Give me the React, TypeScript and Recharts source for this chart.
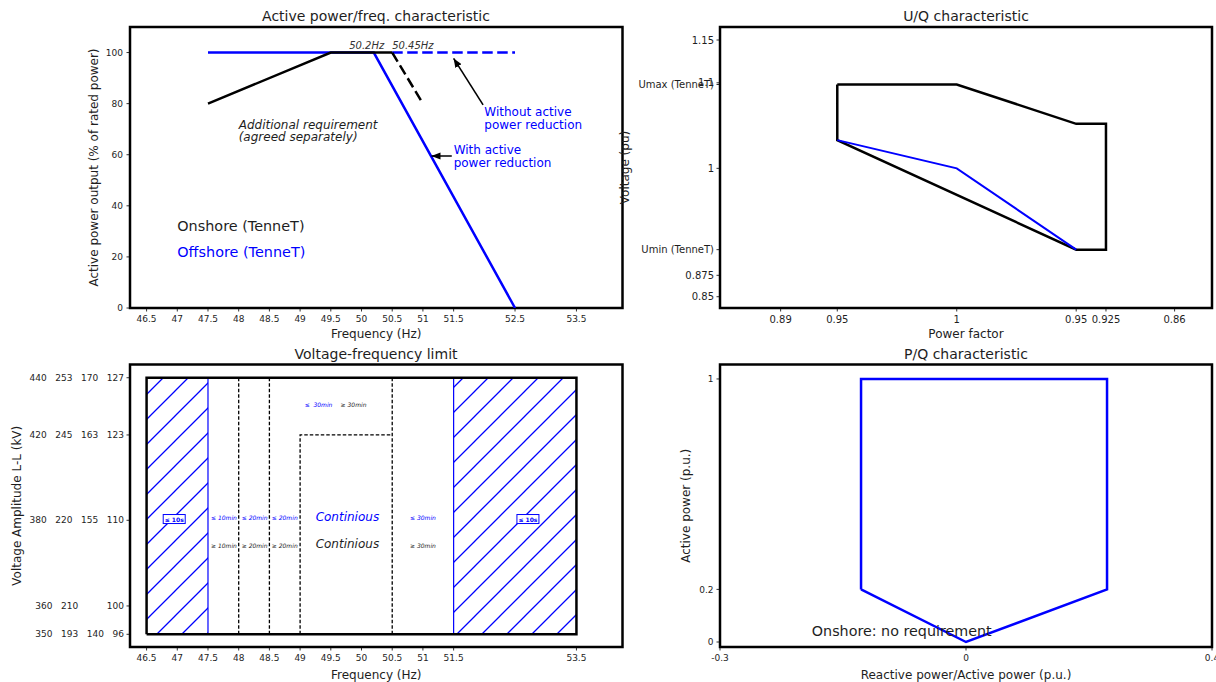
import React from 'react';
import { ComposedChart, Line, XAxis, YAxis, ReferenceArea, ReferenceDot } from 'recharts';

const FONT = '"DejaVu Sans", "Liberation Sans", sans-serif';
const BLUE = '#0000ff';
const INK = '#1e1e1e';
const NB = '\u00A0';

// ---------- Panel 1: Active power / frequency characteristic ----------
const apfXDomain = [46.23, 54.25];
const apfYDomain = [0, 110];
const apfXTicks = [46.5, 47, 47.5, 48, 48.5, 49, 49.5, 50, 50.5, 51, 51.5, 52.5, 53.5];
const apfYTicks = [0, 20, 40, 60, 80, 100];
const apfOffshore = [{ x: 47.5, y: 100 }, { x: 50.2, y: 100 }, { x: 52.5, y: 0 }];
const apfOffshoreNoReduction = [{ x: 50.5, y: 100 }, { x: 52.5, y: 100 }];
const apfOnshore = [{ x: 47.5, y: 80 }, { x: 49.5, y: 100 }, { x: 50.5, y: 100 }];
const apfOnshoreExtra = [{ x: 50.5, y: 100 }, { x: 51, y: 80 }];
const apfArrowWithout = [{ x: 51.98, y: 79.5 }, { x: 51.5, y: 97.7 }];
const apfArrowWith = [{ x: 51.47, y: 59.5 }, { x: 51.14, y: 59.5 }];

// ---------- Panel 2: U/Q characteristic ----------
const uqXDomain = [-0.652, 0.703];
const uqYDomain = [0.8368, 1.1652];
const uqXTicks = [-0.485, -0.329, 0, 0.329, 0.411, 0.6];
const uqXTickLabels = ['0.89', '0.95', '1', '0.95', '0.925', '0.86'];
const uqYTicks = [0.85, 0.875, 0.905, 1, 1.098, 1.1, 1.15];
const uqYTickLabels = ['0.85', '0.875', 'Umin (TenneT)', '1', 'Umax (TenneT)', '1.1', '1.15'];
const uqEnvelope = [
  { x: -0.329, y: 1.098 }, { x: 0, y: 1.098 }, { x: 0.329, y: 1.052 }, { x: 0.411, y: 1.052 },
  { x: 0.411, y: 0.905 }, { x: 0.329, y: 0.905 }, { x: -0.329, y: 1.033 }, { x: -0.329, y: 1.098 },
];
const uqOffshore = [{ x: -0.329, y: 1.033 }, { x: 0, y: 1.0 }, { x: 0.329, y: 0.905 }];

// ---------- Panel 3: Voltage-frequency limit ----------
const vfXDomain = [46.23, 54.25];
const vfYDomain = [0.8592, 1.1731];
const vfXTicks = [46.5, 47, 47.5, 48, 48.5, 49, 49.5, 50, 50.5, 51, 51.5, 53.5];
const vfYTicks = [0.8733, 0.9048, 1, 1.0948, 1.1584];
const vfYTickLabels = [
  `350${NB.repeat(3)}193${NB.repeat(3)}140${NB.repeat(3)}96`,
  `360${NB.repeat(3)}210${NB.repeat(10)}100`,
  `380${NB.repeat(3)}220${NB.repeat(3)}155${NB.repeat(3)}110`,
  `420${NB.repeat(3)}245${NB.repeat(3)}163${NB.repeat(3)}123`,
  `440${NB.repeat(3)}253${NB.repeat(3)}170${NB.repeat(3)}127`,
];
const vfLimitBox = [
  { x: 46.5, y: 0.8733 }, { x: 46.5, y: 1.1584 }, { x: 53.5, y: 1.1584 }, { x: 53.5, y: 0.8733 }, { x: 46.5, y: 0.8733 },
];
const vfDash48 = [{ x: 48, y: 0.8733 }, { x: 48, y: 1.1584 }];
const vfDash485 = [{ x: 48.5, y: 0.8733 }, { x: 48.5, y: 1.1584 }];
const vfDash505 = [{ x: 50.5, y: 0.8733 }, { x: 50.5, y: 1.1584 }];
const vfContinuous = [{ x: 49, y: 0.8733 }, { x: 49, y: 1.0948 }, { x: 50.5, y: 1.0948 }];
const vfLimitLow = [{ x: 47.5, y: 0.8733 }, { x: 47.5, y: 1.1584 }];
const vfLimitHigh = [{ x: 51.5, y: 0.8733 }, { x: 51.5, y: 1.1584 }];
const vfHatchLow = [46.5, 47.5];
const vfHatchHigh = [51.5, 53.5];

// ---------- Panel 4: P/Q characteristic ----------
const pqXDomain = [-0.3, 0.3];
const pqYDomain = [-0.019, 1.055];
const pqXTicks = [-0.3, 0, 0.3];
const pqXTickLabels = ['-0.3', '0', '0.4'];
const pqYTicks = [0, 0.2, 1];
const pqOffshore = [
  { x: -0.128, y: 0.2 }, { x: -0.128, y: 1 }, { x: 0.172, y: 1 }, { x: 0.172, y: 0.2 }, { x: 0, y: 0 }, { x: -0.128, y: 0.2 },
];

// ---------- helpers ----------
const axisTick = { fontSize: 9, fill: INK, fontFamily: FONT };
const axisTick10 = { fontSize: 10, fill: INK, fontFamily: FONT };
const tickLine = { stroke: '#000', strokeWidth: 0.8 };

const xLabel = (text: string, dy: number) => ({
  content: (p: any) => {
    const vb = p.viewBox || { x: 0, y: 0, width: 0, height: 0 };
    return (
      <text x={vb.x + vb.width / 2} y={vb.y + dy} textAnchor="middle" dominantBaseline="central"
        fontSize={12} fill={INK} fontFamily={FONT}>{text}</text>
    );
  },
});

const yLabel = (text: string, dx: number) => ({
  content: (p: any) => {
    const vb = p.viewBox || { x: 0, y: 0, width: 0, height: 0 };
    const cx = vb.x + dx;
    const cy = vb.y + vb.height / 2;
    return (
      <text x={cx} y={cy} transform={`rotate(-90 ${cx} ${cy})`} textAnchor="middle" dominantBaseline="central"
        fontSize={12} fill={INK} fontFamily={FONT}>{text}</text>
    );
  },
});

type NoteStyle = {
  color?: string; size?: number; italic?: boolean; anchor?: 'start' | 'middle' | 'end';
  central?: boolean; box?: [number, number]; weight?: number;
};

const note = (key: string, x: number, y: number, text: string, s: NoteStyle = {}) => (
  <ReferenceDot key={key} x={x} y={y} r={0} fill="none" stroke="none" ifOverflow="visible"
    label={{
      content: (p: any) => {
        const vb = p.viewBox || { x: 0, y: 0, width: 0, height: 0 };
        const cx = vb.x + (vb.width || 0) / 2;
        const cy = vb.y + (vb.height || 0) / 2;
        const t = (
          <text x={cx} y={cy} textAnchor={s.anchor || 'start'} dominantBaseline={s.central ? 'central' : 'alphabetic'}
            fontSize={s.size || 12} fontStyle={s.italic ? 'italic' : 'normal'} fontWeight={s.weight || 400}
            fill={s.color || INK} fontFamily={FONT}>{text}</text>
        );
        if (!s.box) return t;
        return (
          <g>
            <rect x={cx - s.box[0] / 2} y={cy - s.box[1] / 2} width={s.box[0]} height={s.box[1]} fill="#fff" stroke={BLUE} strokeWidth={1} />
            {t}
          </g>
        );
      },
    }} />
);

const series = (key: string, data: any[], color: string, width: number, dash?: string, extra: any = {}) => (
  <Line key={key} data={data} dataKey="y" type="linear" stroke={color} strokeWidth={width} strokeDasharray={dash}
    dot={false} activeDot={false} isAnimationActive={false} legendType="none" {...extra} />
);

const frame = (xd: number[], yd: number[]) => (
  <ReferenceArea x1={xd[0]} x2={xd[1]} y1={yd[0]} y2={yd[1]} fill="none" fillOpacity={0} stroke="#000" strokeWidth={2.5} ifOverflow="visible" />
);

const VfYTick = (p: any) => {
  const i = vfYTicks.indexOf(p.payload.value);
  return (
    <text x={p.x} y={p.y} textAnchor="end" dominantBaseline="central" fontSize={9} fill={INK} fontFamily={FONT}>
      {vfYTickLabels[i]}
    </text>
  );
};

const titleStyle = (cx: number, cy: number): React.CSSProperties => ({
  position: 'absolute', left: cx - 200, top: cy - 9, width: 400, height: 18, lineHeight: '18px', textAlign: 'center',
  fontFamily: FONT, fontSize: 14, color: INK, whiteSpace: 'nowrap',
});

export default function App() {
  return (
    <div style={{ position: 'absolute', left: 0, top: 0, width: 1216, height: 682, background: '#fff', overflow: 'hidden' }}>
      {/* Panel 1 */}
      <div style={titleStyle(376, 16)}>Active power/freq. characteristic</div>
      <div style={{ position: 'absolute', left: 0, top: 0 }}>
        <ComposedChart width={640} height={341} margin={{ top: 27, right: 17.5, bottom: 0, left: 0 }}>
          <defs>
            <marker id="arrowHead" viewBox="0 0 10 8" refX="10" refY="4" markerWidth="9" markerHeight="7.5"
              markerUnits="userSpaceOnUse" orient="auto">
              <path d="M0,0 L10,4 L0,8 z" fill="#000" />
            </marker>
          </defs>
          <XAxis type="number" dataKey="x" domain={apfXDomain} ticks={apfXTicks} interval={0} allowDataOverflow height={33}
            tickSize={3.5} tickMargin={4.5} tickLine={tickLine} axisLine={false} tick={axisTick}
            label={xLabel('Frequency (Hz)', 25.5)} />
          <YAxis type="number" dataKey="y" domain={apfYDomain} ticks={apfYTicks} interval={0} allowDataOverflow width={130}
            tickSize={3.5} tickMargin={3.5} tickLine={tickLine} axisLine={false} tick={axisTick}
            label={yLabel('Active power output (% of rated power)', 94)} />
          {frame(apfXDomain, apfYDomain)}
          {series('offS', apfOffshore, BLUE, 2.5)}
          {series('offD', apfOffshoreNoReduction, BLUE, 2.5, '10.5 4.5')}
          {series('onS', apfOnshore, '#000', 2.5)}
          {series('onD', apfOnshoreExtra, '#000', 2.5, '10.5 4.5')}
          {series('arW', apfArrowWithout, '#000', 1.6, undefined, { markerEnd: 'url(#arrowHead)' })}
          {series('arR', apfArrowWith, '#000', 1.6, undefined, { markerEnd: 'url(#arrowHead)' })}
          {note('t1', 49.8, 101.4, '50.2Hz', { size: 10, italic: true, color: '#333' })}
          {note('t2', 50.5, 101.4, '50.45Hz', { size: 10, italic: true, color: '#333' })}
          {note('t3', 48.0, 70, 'Additional requirement', { size: 12, italic: true })}
          {note('t4', 48.0, 65.2, '(agreed separately)', { size: 12, italic: true })}
          {note('t5', 52.0, 75.1, 'Without active', { size: 12, color: BLUE })}
          {note('t6', 52.0, 69.9, 'power reduction', { size: 12, color: BLUE })}
          {note('t7', 51.5, 60.3, 'With active', { size: 12, color: BLUE })}
          {note('t8', 51.5, 55.1, 'power reduction', { size: 12, color: BLUE })}
          {note('t9', 47.0, 30, 'Onshore (TenneT)', { size: 14.4 })}
          {note('t10', 47.0, 20, 'Offshore (TenneT)', { size: 14.4, color: BLUE })}
        </ComposedChart>
      </div>

      {/* Panel 2 */}
      <div style={titleStyle(966, 16)}>U/Q characteristic</div>
      <div style={{ position: 'absolute', left: 600, top: 0 }}>
        <ComposedChart width={616} height={341} margin={{ top: 27, right: 4, bottom: 0, left: 0 }}>
          <XAxis type="number" dataKey="x" domain={uqXDomain} ticks={uqXTicks} interval={0} allowDataOverflow height={33}
            tickSize={3.5} tickMargin={4} tickLine={tickLine} axisLine={false} tick={axisTick10}
            tickFormatter={(v: number) => uqXTickLabels[uqXTicks.indexOf(v)] ?? String(v)}
            label={xLabel('Power factor', 26)} />
          <YAxis type="number" dataKey="y" domain={uqYDomain} ticks={uqYTicks} interval={0} allowDataOverflow width={120}
            tickSize={3.5} tickMargin={2.5} tickLine={tickLine} axisLine={false} tick={axisTick10}
            tickFormatter={(v: number) => uqYTickLabels[uqYTicks.indexOf(v)] ?? String(v)}
            label={yLabel('Voltage (pu)', 25)} />
          {frame(uqXDomain, uqYDomain)}
          {series('env', uqEnvelope, '#000', 2.5)}
          {series('off', uqOffshore, BLUE, 2)}
        </ComposedChart>
      </div>

      {/* Panel 3 */}
      <div style={titleStyle(376, 354)}>Voltage-frequency limit</div>
      <div style={{ position: 'absolute', left: 0, top: 341 }}>
        <ComposedChart width={640} height={341} margin={{ top: 23.5, right: 17.5, bottom: 0, left: 0 }}>
          <defs>
            <pattern id="vfHatchBlue" patternUnits="userSpaceOnUse" width="25" height="25">
              <path d="M0,25 L25,0 M-2,2 L2,-2 M23,27 L27,23" fill="none" stroke="#0000ff" strokeWidth="1.3"
                style={{ stroke: '#0000ff' }} />
            </pattern>
          </defs>
          <XAxis type="number" dataKey="x" domain={vfXDomain} ticks={vfXTicks} interval={0} allowDataOverflow height={35}
            tickSize={3.5} tickMargin={4.5} tickLine={tickLine} axisLine={false} tick={axisTick}
            label={xLabel('Frequency (Hz)', 27.6)} />
          <YAxis type="number" dataKey="y" domain={vfYDomain} ticks={vfYTicks} interval={0} allowDataOverflow width={130}
            tickSize={3.5} tickMargin={2.5} tickLine={tickLine} axisLine={false} tick={<VfYTick />}
            label={yLabel('Voltage Amplitude L-L (kV)', 17.3)} />
          {frame(vfXDomain, vfYDomain)}
          <ReferenceArea x1={vfHatchLow[0]} x2={vfHatchLow[1]} y1={vfYTicks[0]} y2={vfYTicks[4]} fill="url(#vfHatchBlue)" fillOpacity={1} stroke="none" />
          <ReferenceArea x1={vfHatchHigh[0]} x2={vfHatchHigh[1]} y1={vfYTicks[0]} y2={vfYTicks[4]} fill="url(#vfHatchBlue)" fillOpacity={1} stroke="none" />
          {series('lim1', vfLimitLow, BLUE, 1.2)}
          {series('lim2', vfLimitHigh, BLUE, 1.2)}
          {series('d48', vfDash48, '#000', 1.3, '3.5 2')}
          {series('d485', vfDash485, '#000', 1.3, '3.5 2')}
          {series('d505', vfDash505, '#000', 1.3, '3.5 2')}
          {series('cont', vfContinuous, '#000', 1.3, '3.5 2')}
          {series('box', vfLimitBox, '#000', 2.5)}
          {note('b1', 46.95, 1.0014, '≤ 10s', { size: 6, weight: 700, color: BLUE, anchor: 'middle', central: true, box: [22, 9] })}
          {note('b2', 52.71, 1.0014, '≤ 10s', { size: 6, weight: 700, color: BLUE, anchor: 'middle', central: true, box: [22, 9] })}
          {note('u1', 47.76, 1.0029, '≤ 10min', { size: 6, italic: true, color: BLUE, anchor: 'middle', central: true })}
          {note('u2', 48.26, 1.0029, '≤ 20min', { size: 6, italic: true, color: BLUE, anchor: 'middle', central: true })}
          {note('u3', 48.75, 1.0029, '≤ 20min', { size: 6, italic: true, color: BLUE, anchor: 'middle', central: true })}
          {note('u4', 51.0, 1.0029, '≤ 30min', { size: 6, italic: true, color: BLUE, anchor: 'middle', central: true })}
          {note('l1', 47.76, 0.9722, '≥ 10min', { size: 6, italic: true, anchor: 'middle', central: true })}
          {note('l2', 48.26, 0.9722, '≥ 20min', { size: 6, italic: true, anchor: 'middle', central: true })}
          {note('l3', 48.75, 0.9722, '≥ 20min', { size: 6, italic: true, anchor: 'middle', central: true })}
          {note('l4', 51.0, 0.9722, '≥ 30min', { size: 6, italic: true, anchor: 'middle', central: true })}
          {note('c1', 49.77, 1.004, 'Continious', { size: 12, italic: true, color: BLUE, anchor: 'middle', central: true })}
          {note('c2', 49.77, 0.9737, 'Continious', { size: 12, italic: true, anchor: 'middle', central: true })}
          {note('h1', 49.3, 1.1292, `≤${NB}${NB}30min`, { size: 6, italic: true, color: BLUE, anchor: 'middle', central: true })}
          {note('h2', 49.87, 1.1292, '≥ 30min', { size: 6, italic: true, anchor: 'middle', central: true })}
        </ComposedChart>
      </div>

      {/* Panel 4 */}
      <div style={titleStyle(966, 354)}>P/Q characteristic</div>
      <div style={{ position: 'absolute', left: 600, top: 341 }}>
        <ComposedChart width={616} height={341} margin={{ top: 23.5, right: 4, bottom: 0, left: 0 }}>
          <XAxis type="number" dataKey="x" domain={pqXDomain} ticks={pqXTicks} interval={0} allowDataOverflow height={35}
            tickSize={3.5} tickMargin={4.5} tickLine={tickLine} axisLine={false} tick={axisTick}
            tickFormatter={(v: number) => pqXTickLabels[pqXTicks.indexOf(v)] ?? String(v)}
            label={xLabel('Reactive power/Active power (p.u.)', 27.6)} />
          <YAxis type="number" dataKey="y" domain={pqYDomain} ticks={pqYTicks} interval={0} allowDataOverflow width={120}
            tickSize={3.5} tickMargin={3} tickLine={tickLine} axisLine={false} tick={axisTick}
            label={yLabel('Active power (p.u.)', 86.4)} />
          {frame(pqXDomain, pqYDomain)}
          {series('pq', pqOffshore, BLUE, 2.5)}
          {note('on', -0.188, 0.023, 'Onshore: no requirement', { size: 14.3 })}
        </ComposedChart>
      </div>
    </div>
  );
}
